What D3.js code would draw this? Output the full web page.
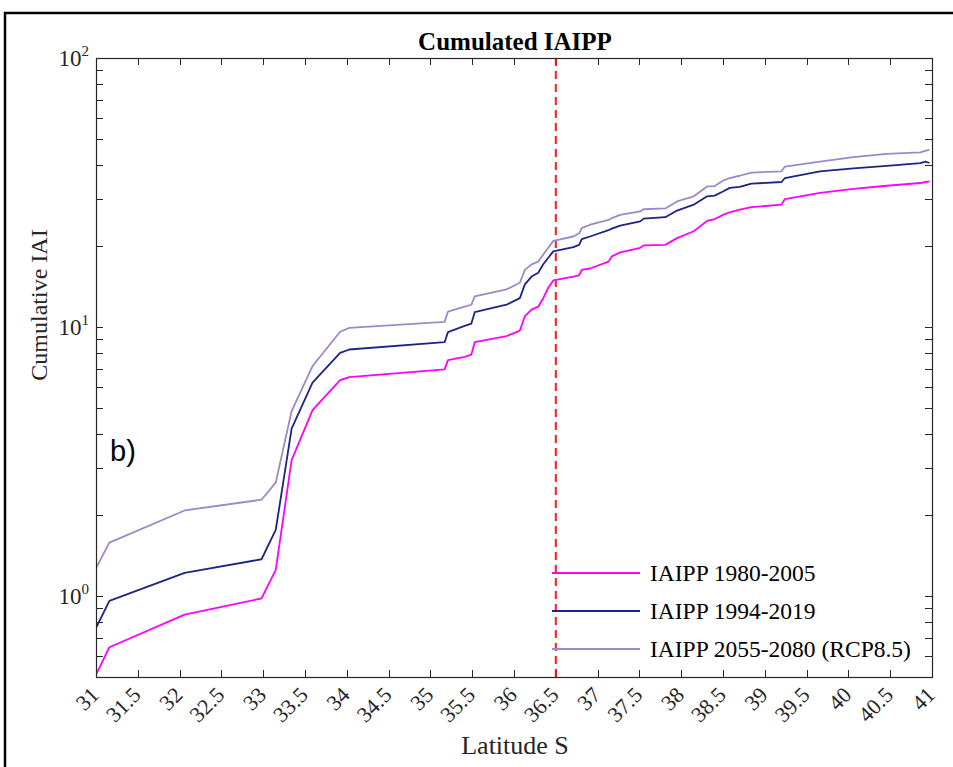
<!DOCTYPE html>
<html>
<head>
<meta charset="utf-8">
<script src="https://cdn.jsdelivr.net/npm/d3@7/dist/d3.min.js"></script>
<style>
  html, body { margin: 0; padding: 0; background: #fff; }
  svg { display: block; }
</style>
</head>
<body>
<svg id="chart" width="953" height="767"></svg>
<script>
// ---- data ----
const latitude = [31, 31.16, 32.06, 32.98, 33.15, 33.34, 33.59, 33.92, 34.03, 35.17, 35.21, 35.41, 35.49, 35.53,
  35.91, 36.07, 36.13, 36.21, 36.29, 36.35, 36.41, 36.47, 36.71, 36.78, 36.81, 36.91, 37.13, 37.17, 37.27,
  37.51, 37.55, 37.81, 37.95, 38.15, 38.31, 38.4, 38.5, 38.58, 38.7, 38.84, 39.2, 39.24, 39.66, 40.06,
  40.46, 40.86, 40.92, 40.97];
const iai1980 = [0.51, 0.645, 0.853, 0.98, 1.25, 3.2, 4.91, 6.35, 6.51, 6.96, 7.53, 7.75, 7.9, 8.78,
  9.25, 9.7, 10.97, 11.6, 11.9, 12.8, 14.0, 14.9, 15.4, 15.6, 16.3, 16.5, 17.5, 18.3, 18.95,
  19.7, 20.1, 20.2, 21.4, 22.7, 24.8, 25.2, 26.1, 26.7, 27.3, 27.9, 28.5, 29.9, 31.5, 32.6,
  33.5, 34.3, 34.6, 34.8];
const iai1994 = [0.76, 0.96, 1.22, 1.37, 1.76, 4.19, 6.21, 8.02, 8.25, 8.78, 9.57, 10.1, 10.3, 11.35,
  12.1, 12.8, 14.4, 15.4, 15.9, 17.1, 18.1, 19.1, 19.8, 20.2, 21.2, 21.7, 22.9, 23.2, 23.8,
  24.7, 25.3, 25.6, 27.1, 28.5, 30.6, 30.8, 31.9, 32.9, 33.2, 34.1, 34.6, 35.8, 37.9, 38.9,
  39.7, 40.7, 41.2, 40.7];
const iai2055 = [1.27, 1.58, 2.08, 2.28, 2.64, 4.87, 7.16, 9.6, 9.93, 10.45, 11.4, 11.9, 12.1, 13.0,
  13.8, 14.6, 16.3, 17.1, 17.5, 18.6, 19.7, 20.9, 21.7, 22.3, 23.3, 24.0, 25.0, 25.4, 26.1,
  26.9, 27.4, 27.6, 29.3, 30.6, 33.3, 33.4, 35.0, 35.8, 36.5, 37.5, 37.9, 39.5, 41.2, 42.8,
  44.0, 44.6, 45.2, 45.6];
const seriesNames = ["IAIPP 1980-2005", "IAIPP 1994-2019", "IAIPP 2055-2080 (RCP8.5)"];
const seriesColors = ["#ff00ff", "#1c2484", "#9d88c8"];
const xTicks = [31, 31.5, 32, 32.5, 33, 33.5, 34, 34.5, 35, 35.5, 36, 36.5, 37, 37.5, 38, 38.5, 39, 39.5, 40, 40.5, 41];
const yMajorExp = [0, 1, 2];
const refLatitude = 36.5;
const titleText = "Cumulated IAIPP";
const xLabel = "Latitude S";
const yLabel = "Cumulative IAI";
const panelLabel = "b)";

// ---- layout ----
const svg = d3.select("#chart");
const L = 96, R = 932, T = 58, B = 677;
const serif = "'Liberation Serif', 'Times New Roman', serif";
const axisColor = "#262626";

const x = d3.scaleLinear().domain([31, 41]).range([L, R]);
const y = d3.scaleLog().domain([0.5, 100]).range([B, T]);

// outer frame
svg.append("path").attr("d", `M5,767 L5,13 L953,13`).attr("fill", "none")
  .attr("stroke", "#000").attr("stroke-width", 2.5);

// clip
svg.append("clipPath").attr("id", "clip").append("rect")
  .attr("x", L).attr("y", T).attr("width", R - L).attr("height", B - T);

// minor/major y ticks
const yMinor = [];
for (let e = -1; e < 2; e++) for (let m = 1; m <= 9; m++) {
  const v = m * Math.pow(10, e);
  if (v >= 0.5 && v <= 100) yMinor.push(v);
}
const tk = 7;
const ticksG = svg.append("g").attr("stroke", axisColor).attr("stroke-width", 1);
yMinor.forEach(v => {
  const yy = Math.round(y(v)) + 0.5;
  ticksG.append("line").attr("x1", L).attr("x2", L + tk).attr("y1", yy).attr("y2", yy);
  ticksG.append("line").attr("x1", R).attr("x2", R - tk).attr("y1", yy).attr("y2", yy);
});
xTicks.forEach(v => {
  const xx = Math.round(x(v)) + 0.5;
  ticksG.append("line").attr("x1", xx).attr("x2", xx).attr("y1", B).attr("y2", B - tk);
  ticksG.append("line").attr("x1", xx).attr("x2", xx).attr("y1", T).attr("y2", T + tk);
});

// y tick labels 10^n
yMajorExp.forEach(e => {
  const yy = y(Math.pow(10, e));
  const t = svg.append("text").attr("x", 89).attr("y", yy + 8)
    .attr("text-anchor", "end").attr("font-family", serif).attr("font-size", 23).attr("fill", "#262626");
  t.append("tspan").text("10");
  t.append("tspan").attr("dy", -10).attr("font-size", 15).text(String(e));
});

// x tick labels rotated
xTicks.forEach(v => {
  const xx = x(v) - 1, yy = B + 14;
  svg.append("text").attr("transform", `translate(${xx},${yy}) rotate(-45)`)
    .attr("text-anchor", "end").attr("dominant-baseline", "central")
    .attr("font-family", serif).attr("font-size", 22).attr("fill", "#262626")
    .text(String(v));
});

// reference dashed line
svg.append("line").attr("x1", x(refLatitude)).attr("x2", x(refLatitude)).attr("y1", T).attr("y2", B)
  .attr("stroke", "#ff1a1a").attr("stroke-width", 2).attr("stroke-dasharray", "8,5");

// series lines
const seriesVals = [iai1980, iai1994, iai2055];
const line = d3.line().x(d => x(d[0])).y(d => y(d[1]));
const plotG = svg.append("g").attr("clip-path", "url(#clip)");
[2, 1, 0].forEach(i => {
  const pts = latitude.map((lat, j) => [lat, seriesVals[i][j]]);
  plotG.append("path").attr("d", line(pts)).attr("fill", "none")
    .attr("stroke", seriesColors[i]).attr("stroke-width", 1.8).attr("stroke-linejoin", "round");
});

// axes box
svg.append("rect").attr("x", L + 0.5).attr("y", T + 0.5).attr("width", R - L).attr("height", B - T)
  .attr("fill", "none").attr("stroke", axisColor).attr("stroke-width", 1.2);

// legend
const legY = [573, 611, 649];
seriesNames.forEach((n, i) => {
  svg.append("line").attr("x1", 552).attr("x2", 640).attr("y1", legY[i]).attr("y2", legY[i])
    .attr("stroke", seriesColors[i]).attr("stroke-width", 1.8);
  svg.append("text").attr("x", 650).attr("y", legY[i]).attr("dominant-baseline", "central")
    .attr("font-family", serif).attr("font-size", 23.5).attr("fill", "#000").text(n);
});

// title & labels
svg.append("text").attr("x", 515).attr("y", 50).attr("text-anchor", "middle")
  .attr("font-family", serif).attr("font-weight", "bold").attr("font-size", 25).attr("fill", "#000")
  .text(titleText);
svg.append("text").attr("x", 515).attr("y", 754).attr("text-anchor", "middle")
  .attr("font-family", serif).attr("font-size", 26).attr("fill", "#262626").text(xLabel);
svg.append("text").attr("transform", `translate(47,305) rotate(-90)`).attr("text-anchor", "middle")
  .attr("font-family", serif).attr("font-size", 24).attr("fill", "#262626").text(yLabel);
svg.append("text").attr("x", 110).attr("y", 461)
  .attr("font-family", "'Liberation Sans', Arial, sans-serif").attr("font-size", 29).attr("fill", "#000")
  .text(panelLabel);
</script>
</body>
</html>
